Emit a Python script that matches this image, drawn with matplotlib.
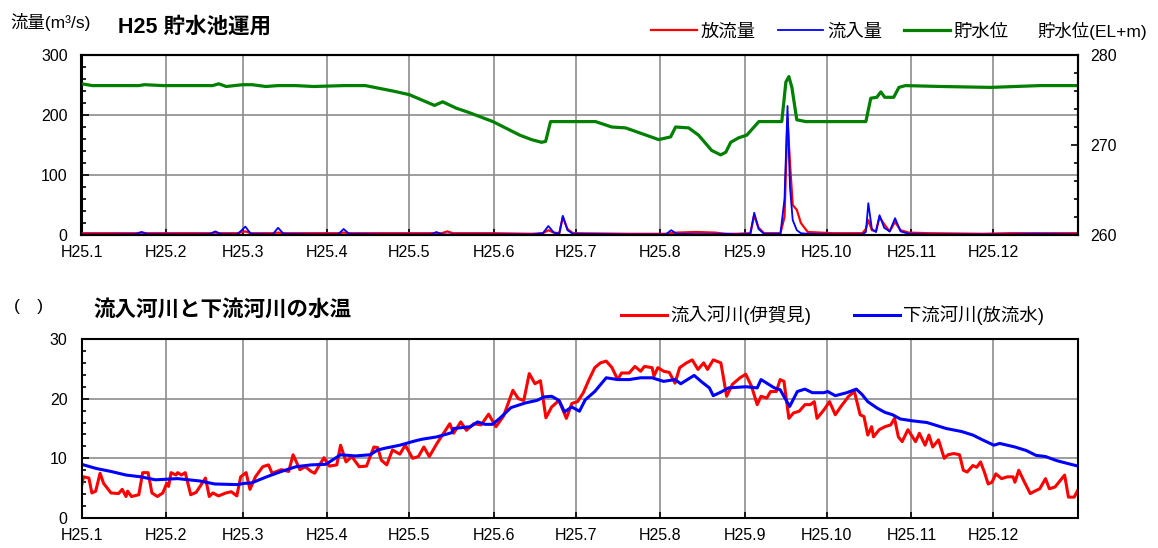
import matplotlib
matplotlib.use("Agg")
import matplotlib.pyplot as plt
from matplotlib.ticker import MultipleLocator

plt.rcParams['font.family'] = ['Liberation Sans', 'Noto Sans CJK JP', 'DejaVu Sans']

# ---------------- data ----------------
month_starts = [0, 31, 59, 90, 120, 151, 181, 212, 243, 273, 304, 334]
month_labels = ["H25.1", "H25.2", "H25.3", "H25.4", "H25.5", "H25.6",
                "H25.7", "H25.8", "H25.9", "H25.10", "H25.11", "H25.12"]

# flows (m3/s)
flow_days = [0, 10, 20, 22, 24, 40, 47, 49, 51, 57, 58, 60, 62, 70, 72, 74, 85, 94, 96, 98,
             110, 128, 130, 132, 134, 136, 150, 165, 169, 171, 173, 175, 176.3, 178, 180,
             200, 214, 216, 218, 225, 232, 236, 240, 245, 246.4, 248, 250, 256, 257.5,
             258.6, 259.5, 260.5, 262, 263.5, 266, 275, 286, 287.3, 288.2, 289.5, 291,
             292.3, 294, 296, 298, 300, 303, 310, 330, 340, 350, 365]
outflow = [3, 3, 3, 4, 3, 3, 3, 4, 3, 3, 4, 6, 3, 3, 4, 3, 3, 3, 4, 3,
           3, 3, 3, 3, 6, 3, 3, 2, 3, 8, 4, 3, 30, 10, 3,
           2, 2, 3, 4, 5, 4, 2, 2, 3, 33, 12, 3, 3, 30,
           195, 120, 50, 42, 20, 5, 3, 3, 10, 25, 8, 6,
           30, 18, 6, 22, 8, 4, 3, 2, 3, 3, 3]
inflow = [1, 1, 1.5, 5, 1.5, 1, 1.5, 6, 1.5, 1, 5, 14, 2, 1, 12, 2, 1, 1, 10, 2,
          1, 1, 5, 1, 1, 1, 1, 1, 3, 15, 4, 2, 32, 8, 2,
          1, 1, 8, 2, 1.5, 1.5, 2, 1, 2, 37, 10, 2, 2, 60,
          215, 80, 25, 8, 3, 2, 1, 1, 5, 53, 10, 5,
          33, 12, 6, 28, 6, 2, 1, 1, 1, 2, 1]

# reservoir level (EL+m)
level_days = [0, 4, 21, 23, 30, 48, 50.3, 53, 59, 62.5, 67.5, 72, 78.5, 85, 96, 104, 109,
              114, 120, 129.3, 132.3, 137.2, 142, 150.7, 160.5, 164.8, 168.5, 170, 171.8,
              188.3, 194.2, 199.3, 211.4, 215.8, 217.6, 222.4, 226, 230.8, 234.1, 236,
              237.8, 240.7, 243.7, 248.1, 256.5, 258, 259.1, 260.2, 262, 265.3, 287.3,
              289.1, 291.3, 292.8, 294.2, 297.5, 299.4, 301.8, 315, 333, 351, 365]
level = [276.8, 276.6, 276.6, 276.7, 276.6, 276.6, 276.8, 276.5, 276.7, 276.7, 276.5,
         276.6, 276.6, 276.5, 276.6, 276.6, 276.3, 276.0, 275.6, 274.4, 274.8, 274.1,
         273.6, 272.6, 271.1, 270.6, 270.3, 270.4, 272.6, 272.6, 272.0, 271.9, 270.6,
         270.9, 272.0, 271.9, 271.1, 269.4, 268.9, 269.2, 270.3, 270.8, 271.1, 272.6,
         272.6, 277.0, 277.6, 276.4, 272.8, 272.6, 272.6, 275.2, 275.3, 275.9, 275.3,
         275.3, 276.4, 276.6, 276.5, 276.4, 276.6, 276.6]

# water temperature (deg C)
inlet_days = [0, 0.7, 2.7, 3.8, 5.2, 6.8, 8.1, 10.8, 13.6, 14.9, 16.3, 16.9, 18.3, 21.0,
              22.4, 24.4, 25.8, 27.8, 29.8, 31.2, 31.9, 32.8, 34.6, 35.2, 36.6, 38.0,
              40.0, 42.0, 44.1, 45.4, 46.8, 48.1, 50.2, 52.9, 54.9, 56.9, 58.3, 60.3,
              61.7, 63.7, 66.4, 68.5, 69.8, 73.2, 75.9, 77.5, 80.0, 82.0, 84.1, 85.4,
              86.8, 88.8, 90.8, 93.5, 94.9, 96.9, 99.0, 101.7, 104.4, 107.1, 108.5,
              109.8, 111.8, 113.9, 116.6, 118.6, 121.3, 123.4, 125.4, 127.4, 130.2,
              134.9, 136.3, 138.9, 141.0, 143.7, 146.4, 149.1, 151.8, 154.6, 158.0,
              160.0, 162.0, 164.0, 166.1, 168.1, 170.1, 172.2, 174.9, 177.6, 179.6,
              181.7, 183.8, 185.9, 188.0, 190.1, 192.2, 194.3, 196.4, 197.8, 200.6,
              202.7, 204.8, 206.2, 209.0, 209.7, 211.1, 213.2, 215.3, 217.4, 219.1,
              221.6, 223.7, 225.8, 227.9, 229.3, 231.4, 234.2, 236.3, 238.4, 241.2,
              243.3, 245.4, 247.5, 248.9, 251.0, 252.4, 254.5, 255.9, 257.3, 259.1,
              260.8, 262.9, 265.0, 267.0, 268.4, 269.4, 271.9, 274.0, 276.1, 278.2,
              281.0, 283.1, 285.2, 286.6, 288.0, 289.4, 290.1, 292.2, 294.3, 296.4,
              297.8, 299.2, 300.6, 302.7, 305.5, 306.9, 309.0, 310.4, 311.8, 313.9,
              316.0, 317.4, 319.5, 321.6, 323.0, 324.4, 326.5, 327.9, 329.3, 330.7,
              332.1, 333.5, 334.9, 337.0, 339.1, 341.2, 341.9, 343.3, 345.4, 347.5,
              349.6, 351.0, 353.1, 354.5, 356.6, 358.0, 360.1, 361.5, 363.6, 365.0]
inlet_temp = [5.3, 6.9, 6.7, 4.2, 4.5, 7.5, 5.8, 4.2, 4.1, 4.8, 3.6, 4.5, 3.6, 3.9,
              7.6, 7.6, 4.2, 3.6, 4.2, 5.8, 5.3, 7.6, 7.2, 7.6, 7.2, 7.6,
              3.9, 4.3, 5.8, 6.7, 3.6, 4.2, 3.7, 4.2, 4.4, 3.7, 6.9, 7.6,
              4.8, 6.9, 8.6, 8.9, 7.5, 8.1, 7.8, 10.6, 8.1, 8.6, 7.8, 7.5,
              8.6, 10.1, 8.7, 8.9, 12.2, 9.4, 10.3, 8.6, 8.7, 11.9, 11.8,
              9.7, 8.9, 11.4, 10.7, 12.2, 10.0, 10.3, 11.9, 10.3, 12.5,
              15.8, 14.2, 16.1, 14.7, 15.8, 15.6, 17.4, 15.3, 17.1, 21.4,
              20.0, 19.7, 24.2, 22.5, 23.0, 16.8, 18.6, 19.7, 16.7, 19.2,
              19.5, 21.0, 23.2, 25.2, 26.0, 26.3, 25.2, 23.2, 24.3, 24.3,
              25.4, 24.6, 25.4, 25.2, 23.8, 25.2, 24.6, 24.4, 22.6, 25.2,
              26.0, 26.5, 24.9, 26.0, 24.9, 26.5, 26.0, 20.4, 22.4, 23.5,
              24.1, 22.1, 19.0, 20.4, 20.1, 21.2, 21.2, 23.2, 22.9, 16.7,
              17.6, 17.9, 19.0, 19.0, 19.5, 16.7, 18.1, 19.5, 17.3, 18.7,
              20.4, 21.2, 17.3, 17.0, 13.9, 15.3, 13.6, 14.8, 15.3, 15.6,
              16.7, 13.6, 12.8, 14.8, 12.8, 14.2, 12.2, 13.9, 11.9, 13.1,
              10.0, 10.6, 10.8, 10.6, 8.0, 7.7, 8.8, 8.5, 9.4, 7.7,
              5.7, 6.0, 7.4, 6.6, 6.9, 6.9, 6.0, 8.0, 6.0, 4.1,
              4.6, 4.9, 6.6, 4.9, 5.2, 6.0, 7.2, 3.5, 3.5, 4.7]

outlet_days = [0, 5.4, 10.8, 16.3, 21.7, 27.1, 35.2, 43.4, 48.8, 56.9, 59.7, 62.4, 67.8,
               73.2, 78.6, 84.1, 89.5, 94.9, 100.3, 105.7, 108.5, 111.2, 116.6, 122.0,
               124.7, 130.2, 135.6, 136.3, 142.4, 145.1, 147.8, 150.5, 153.2, 157.3,
               162.7, 166.8, 169.5, 172.2, 174.9, 176.9, 179.6, 182.4, 184.5, 188.0,
               192.2, 196.4, 200.6, 204.8, 209.0, 213.2, 217.4, 219.5, 224.4, 227.2,
               230.0, 231.4, 234.2, 237.0, 243.3, 247.5, 248.9, 251.7, 253.8, 255.9,
               258.0, 259.4, 262.2, 265.0, 267.7, 271.9, 273.3, 276.1, 280.3, 283.8,
               285.9, 288.0, 291.5, 294.3, 297.1, 299.9, 304.1, 309.7, 313.9, 316.7,
               322.3, 326.5, 330.0, 334.2, 336.3, 341.9, 346.1, 349.6, 353.1, 357.3,
               361.5, 365.0]
outlet_temp = [9.0, 8.3, 7.8, 7.2, 6.9, 6.4, 6.6, 6.2, 5.7, 5.6, 5.8, 5.9, 6.9,
               7.8, 8.6, 8.9, 9.0, 10.6, 10.4, 10.6, 11.4, 11.7, 12.2, 12.9,
               13.2, 13.6, 14.3, 15.0, 15.3, 16.1, 15.7, 15.7, 16.7, 18.5,
               19.3, 19.7, 20.3, 20.4, 19.7, 17.8, 18.6, 17.9, 19.8, 21.2,
               23.5, 23.2, 23.2, 23.5, 23.5, 22.9, 23.2, 22.5, 23.9, 22.8,
               21.8, 20.5, 21.1, 21.8, 22.0, 21.8, 23.2, 22.4, 21.8, 21.5,
               19.8, 18.7, 21.2, 21.6, 21.0, 21.0, 21.2, 20.5, 21.0, 21.6,
               20.7, 19.5, 18.4, 17.7, 17.3, 16.6, 16.3, 16.0, 15.4, 15.0,
               14.5, 13.9, 13.1, 12.2, 12.5, 11.9, 11.3, 10.5, 10.3, 9.6,
               9.1, 8.7]

# ---------------- figure ----------------
W, H = 1158, 548
fig = plt.figure(figsize=(W / 100, H / 100), dpi=100)

def fx(px):
    return px / W

def fy(py):
    return 1 - py / H

grid_kw = dict(color='#8c8c8c', linewidth=1.2)
tick_fs = 11.5
lab_fs = 12.5
leg_fs = 13.2
title_fs = 15.5

def style_axes(ax):
    ax.set_xlim(0, 365)
    ax.set_xticks(month_starts)
    ax.set_xticklabels(month_labels)
    ax.grid(True, **grid_kw)
    ax.set_axisbelow(True)
    for s in ax.spines.values():
        s.set_linewidth(1.5)
        s.set_color('black')
    ax.tick_params(axis='x', direction='in', length=4, width=1.2, pad=7, labelsize=tick_fs)
    ax.tick_params(axis='y', which='major', direction='in', length=5, width=1.2, pad=10,
                   labelsize=tick_fs)
    ax.tick_params(axis='y', which='minor', direction='in', length=3, width=1.2)

# top panel
ax1 = fig.add_axes([fx(81.5), fy(235), fx(1078 - 81.5), (235 - 55) / H])
style_axes(ax1)
ax1.set_ylim(0, 300)
ax1.set_yticks([0, 100, 200, 300])
ax1.yaxis.set_minor_locator(MultipleLocator(20))
l_out, = ax1.plot(flow_days, outflow, color='#ff0000', lw=1.6, label='放流量', zorder=3)
l_in, = ax1.plot(flow_days, inflow, color='#0000ff', lw=1.3, label='流入量', zorder=4)

ax1r = ax1.twinx()
ax1r.set_ylim(260, 280)
ax1r.set_yticks([260, 270, 280])
ax1r.yaxis.set_minor_locator(MultipleLocator(2))
ax1r.tick_params(axis='y', which='major', direction='in', length=5, width=1.2, pad=9,
                 labelsize=tick_fs)
ax1r.tick_params(axis='y', which='minor', direction='in', length=3, width=1.2)
for s in ax1r.spines.values():
    s.set_linewidth(1.5)
l_lv, = ax1r.plot(level_days, level, color='#008000', lw=2.3, label='貯水位')

fig.text(fx(10), fy(22), '流量(m³/s)', fontsize=lab_fs, va='center', ha='left')
fig.text(fx(118), fy(27), 'H25 貯水池運用', fontsize=title_fs, fontweight='bold',
         va='center', ha='left')
fig.text(fx(1037), fy(31), '貯水位(EL+m)', fontsize=lab_fs, va='center', ha='left')
fig.legend(handles=[l_out, l_in, l_lv], loc='center left',
           bbox_to_anchor=(fx(651), fy(32)), ncol=3, frameon=False, fontsize=leg_fs,
           handlelength=2.5, handletextpad=0.2, columnspacing=1.2, borderpad=0,
           borderaxespad=0)

# bottom panel
ax2 = fig.add_axes([fx(81.5), fy(518), fx(1078 - 81.5), (518 - 339) / H])
style_axes(ax2)
ax2.set_ylim(0, 30)
ax2.set_yticks([0, 10, 20, 30])
ax2.yaxis.set_minor_locator(MultipleLocator(2))
l_t1, = ax2.plot(inlet_days, inlet_temp, color='#ff0000', lw=2.2, label='流入河川(伊賀見)')
l_t2, = ax2.plot(outlet_days, outlet_temp, color='#0000ff', lw=2.2, label='下流河川(放流水)')

fig.text(fx(14), fy(307), '(\u3000)', fontsize=lab_fs, va='center', ha='left')
fig.text(fx(93), fy(310), '流入河川と下流河川の水温', fontsize=title_fs, fontweight='bold',
         va='center', ha='left')
fig.legend(handles=[l_t1, l_t2], loc='center left',
           bbox_to_anchor=(fx(621), fy(315)), ncol=2, frameon=False, fontsize=leg_fs,
           handlelength=2.5, handletextpad=0.2, columnspacing=2.3, borderpad=0,
           borderaxespad=0)

fig.savefig('out.png', dpi=100)
